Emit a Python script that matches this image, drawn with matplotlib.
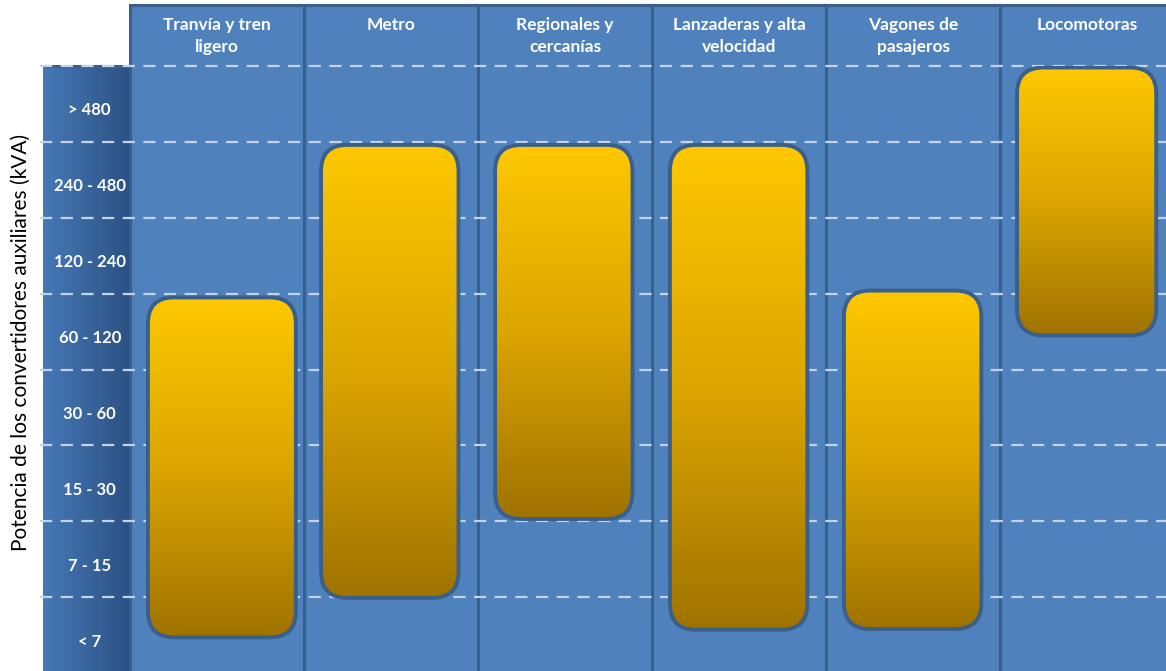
import numpy as np
import matplotlib
matplotlib.use("Agg")
import matplotlib.pyplot as plt
from matplotlib.patches import Rectangle, FancyBboxPatch
from matplotlib.colors import LinearSegmentedColormap

# ---------------- data ----------------
categories = ["Tranvía y tren\nligero", "Metro", "Regionales y\ncercanías",
              "Lanzaderas y alta\nvelocidad", "Vagones de\npasajeros", "Locomotoras"]
levels = ["< 7", "7 - 15", "15 - 30", "30 - 60", "60 - 120",
          "120 - 240", "240 - 480", "> 480"]
bar_low = [0.47, 0.99, 2.03, 0.57, 0.58, 4.45]
bar_high = [4.95, 6.96, 6.96, 6.96, 5.04, 7.98]
ylabel = "Potencia de los convertidores auxiliares (kVA)"

# ---------------- style ----------------
W, H = 1166, 671
plt.rcParams['font.family'] = ['Lato', 'DejaVu Sans']
PANEL = '#4f81bd'
EDGE = '#3a5f8b'
DASH = '#c3d3ea'
bar_cmap = LinearSegmentedColormap.from_list(
    'gold', [(0.0, '#9f7300'), (0.5, '#dca500'), (1.0, '#fdc800')])
band_cmap = LinearSegmentedColormap.from_list('band', ['#4678b7', '#2c5283'])

fig = plt.figure(figsize=(W / 100, H / 100), dpi=100)

# left band (gradient) axes
bax = fig.add_axes([43 / W, 0, 87 / W, (671 - 66) / H], zorder=0)
bax.imshow(np.linspace(0, 1, 256)[None, :], cmap=band_cmap, aspect='auto',
           extent=(0, 1, 0, 1))
bax.plot([0, 1], [1, 1], color=EDGE, lw=2.2, solid_capstyle='butt', clip_on=False)
bax.set_xlim(0, 1)
bax.set_ylim(0, 1)
bax.axis('off')

# main axes
ax = fig.add_axes([130 / W, 0, 1036 / W, (671 - 66) / H], zorder=1)
ax.patch.set_alpha(0)
ymin = (673 - 671) / 75.8
ytop_panel = (673 - 6) / 75.8
xmax = 5 + 166 / 174
ax.set_xlim(0, xmax)
ax.set_ylim(ymin, len(levels))

# column panels
for i in range(len(categories)):
    ax.add_patch(Rectangle((i, ymin - 1), 1, ytop_panel - ymin + 1,
                           fc=PANEL, ec=EDGE, lw=2.2, zorder=0, clip_on=False))

# dashed grid lines
ax.hlines(np.arange(1, len(levels) + 1), -0.52, xmax, colors=DASH, lw=1.6,
          linestyles=(0, (5.5, 3.8)), zorder=1, clip_on=False)

# rounded gradient bars
widths = [0.85, 0.79, 0.79, 0.79, 0.79, 0.80]
offsets = [0.103, 0.098, 0.098, 0.103, 0.103, 0.098]
aspect = 174 / 75.8
grad = np.linspace(0, 1, 256)[:, None]
for i, (lo, hi) in enumerate(zip(bar_low, bar_high)):
    x0 = i + offsets[i]
    w = widths[i]
    patch = FancyBboxPatch((x0, lo), w, hi - lo,
                           boxstyle="round,pad=0,rounding_size=0.15",
                           mutation_aspect=aspect,
                           fc='none', ec=EDGE, lw=2.8, zorder=3)
    ax.add_patch(patch)
    im = ax.imshow(grad, cmap=bar_cmap, origin='lower', aspect='auto',
                   extent=(x0, x0 + w, lo, hi), zorder=2)
    im.set_clip_path(patch)

ax.set_xlim(0, xmax)
ax.set_ylim(ymin, len(levels))

# ticks (labels sit slightly below band centres, as in the reference)
ax.set_yticks(np.arange(len(levels)) + 0.5 - 5 / 75.8)
ax.set_yticklabels(levels, fontsize=12, fontweight='bold', color='white')
for t in ax.get_yticklabels():
    t.set_horizontalalignment('center')
ax.tick_params(axis='y', length=0, pad=29)

ax.set_xticks(np.arange(len(categories)) + 0.5)
ax.set_xticklabels(categories, fontsize=12.5, fontweight='bold', color='white',
                   linespacing=1.45)
ax.tick_params(axis='x', length=0, top=False, bottom=False,
               labeltop=True, labelbottom=False, pad=35)
for tick in ax.xaxis.get_major_ticks():
    tick.label2.set_verticalalignment('top')

ax.set_ylabel(ylabel, fontsize=15, color='black')
ax.yaxis.set_label_coords(-99 / 1036, (673 - 342 - 2) / 605)

for s in ax.spines.values():
    s.set_visible(False)

fig.savefig('out.png', dpi=100)
